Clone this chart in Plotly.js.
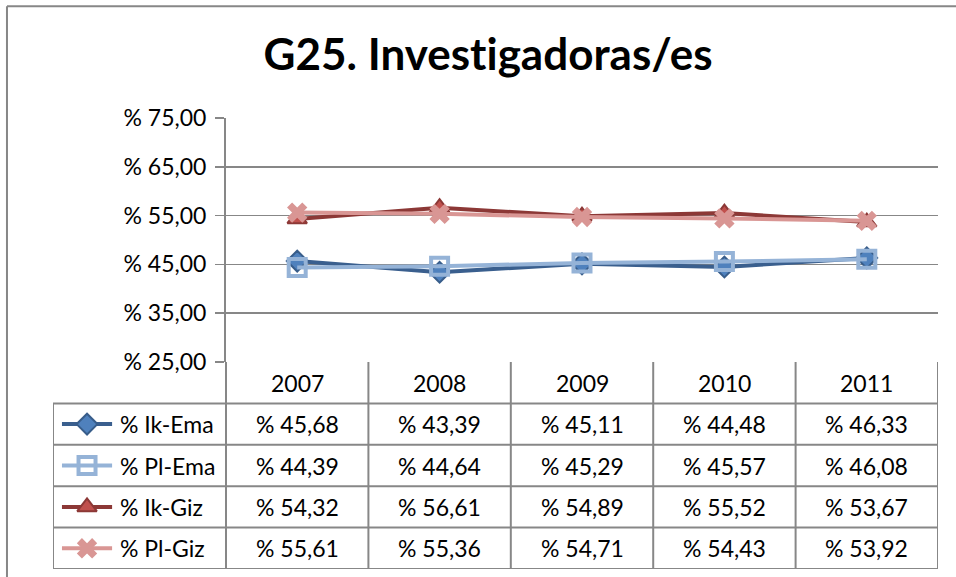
<!DOCTYPE html>
<html>
<head>
<meta charset="utf-8">
<script src="https://cdn.plot.ly/plotly-3.0.1.min.js"></script>
<style>html,body{margin:0;padding:0;background:#fff;}#chart{width:956px;height:577px;}
svg text{font-variant-ligatures:none;font-feature-settings:"liga" 0;}</style>
</head>
<body>
<div id="chart"></div>
<script>
// ---- data ----
const years = ["2007", "2008", "2009", "2010", "2011"];
const seriesNames = ["% Ik-Ema", "% Pl-Ema", "% Ik-Giz", "% Pl-Giz"];
const ikEma = [45.68, 43.39, 45.11, 44.48, 46.33];
const plEma = [44.39, 44.64, 45.29, 45.57, 46.08];
const ikGiz = [54.32, 56.61, 54.89, 55.52, 53.67];
const plGiz = [55.61, 55.36, 54.71, 54.43, 53.92];
const yTickVals = [25, 35, 45, 55, 65, 75];
const yTickText = ["% 25,00", "% 35,00", "% 45,00", "% 55,00", "% 65,00", "% 75,00"];
const titleText = "G25. Investigadoras/es";

// ---- styles ----
const FONT = "Lato, 'Open Sans', sans-serif";
const GRID = "#878787";
const styles = [
  {line: "#3A5F8E", marker: {symbol: "diamond", size: 16, color: "#4F81BD", line: {color: "#385D8A", width: 2}}},
  {line: "#95B3D7", marker: {symbol: "square-open", size: 17, color: "#95B3D7", line: {color: "#95B3D7", width: 4}}},
  {line: "#8C3836", marker: {symbol: "triangle-up", size: 17, color: "#C0504D", line: {color: "#8C3836", width: 2}}},
  {line: "#D99694", marker: {symbol: "x", size: 18, color: "#D99694", line: {color: "#D99694", width: 0}}}
];
const allSeries = [ikEma, plEma, ikGiz, plGiz];

function fmt(v) { return "% " + v.toFixed(2).replace(".", ","); }

const traces = [];
allSeries.forEach((vals, i) => {
  traces.push({
    type: "scatter", mode: "lines+markers", x: years, y: vals, name: seriesNames[i],
    xaxis: "x", yaxis: "y", cliponaxis: false,
    line: {color: styles[i].line, width: 4}, marker: styles[i].marker, showlegend: false, hoverinfo: "skip"
  });
});

// legend keys in the table (x2/y2 coordinates: column index, row index)
const keyLeft = -1.652, keyRight = -1.30, keyMid = -1.476;
allSeries.forEach((vals, i) => {
  const rowY = i + 1.5;
  traces.push({
    type: "scatter", mode: "lines", x: [keyLeft, keyRight], y: [rowY, rowY], xaxis: "x2", yaxis: "y2",
    line: {color: styles[i].line, width: 4}, showlegend: false, hoverinfo: "skip"
  });
  traces.push({
    type: "scatter", mode: "markers", x: [keyMid], y: [rowY], xaxis: "x2", yaxis: "y2",
    marker: styles[i].marker, showlegend: false, hoverinfo: "skip"
  });
});

const shapes = [];
const lineStyle = {color: GRID, width: 2};
const tLeft = -1.715, tRight = 4.5;
for (let r = 1; r <= 5; r++) {
  shapes.push({type: "line", xref: "x2", yref: "y2", x0: tLeft, x1: tRight, y0: r, y1: r, line: lineStyle});
}
shapes.push({type: "line", xref: "x2", yref: "y2", x0: tLeft, x1: tLeft, y0: 1, y1: 5, line: lineStyle});
for (let c = 0; c <= years.length; c++) {
  shapes.push({type: "line", xref: "x2", yref: "y2", x0: c - 0.5, x1: c - 0.5, y0: 0, y1: 5, line: lineStyle});
}
// outer chart border (left and top)
shapes.push({type: "line", xref: "paper", yref: "paper", x0: -0.052, x1: -0.052, y0: 1.248, y1: -0.03, line: {color: GRID, width: 2}});
shapes.push({type: "line", xref: "paper", yref: "paper", x0: -0.052, x1: 1.03, y0: 1.248, y1: 1.248, line: {color: GRID, width: 2}});

const annotations = [];
const cellFont = {family: FONT, size: 23, color: "#000"};
years.forEach((yr, c) => {
  annotations.push({xref: "x2", yref: "y2", x: c, y: 0.5, text: yr, showarrow: false, font: cellFont, xanchor: "center", yanchor: "middle"});
});
allSeries.forEach((vals, r) => {
  annotations.push({xref: "x2", yref: "y2", x: -1.26, y: r + 1.5, text: seriesNames[r], showarrow: false, font: cellFont, xanchor: "left", yanchor: "middle"});
  vals.forEach((v, c) => {
    annotations.push({xref: "x2", yref: "y2", x: c, y: r + 1.5, text: fmt(v), showarrow: false, font: cellFont, xanchor: "center", yanchor: "middle"});
  });
});

const layout = {
  width: 956, height: 577,
  margin: {l: 53, r: 18, t: 118, b: 8, pad: 0},
  paper_bgcolor: "#fff", plot_bgcolor: "#fff",
  font: {family: FONT, color: "#000"},
  title: {text: "<b>" + titleText + "</b>", x: 0.5105, xref: "container", xanchor: "center", y: 0.905, yref: "container", yanchor: "middle",
          font: {family: FONT, size: 44, color: "#000"}},
  xaxis: {type: "category", domain: [0.19548, 1], anchor: "y", range: [-0.5, 4.5], showticklabels: false, showgrid: false,
          zeroline: false, showline: false, ticks: "", fixedrange: true},
  yaxis: {domain: [0.45898, 1], anchor: "x", range: [25, 75], tickvals: yTickVals, ticktext: yTickText,
          showgrid: true, gridcolor: GRID, gridwidth: 1.5, zeroline: false,
          showline: true, linecolor: GRID, linewidth: 2, ticks: "outside", ticklen: 9, tickcolor: GRID, tickwidth: 1.5,
          tickfont: {family: FONT, size: 23, color: "#000"}, ticklabelstandoff: 4, fixedrange: true},
  xaxis2: {domain: [0, 1], anchor: "y2", range: [tLeft, tRight], visible: false, fixedrange: true},
  yaxis2: {domain: [0, 0.45898], anchor: "x2", range: [5, 0], visible: false, fixedrange: true},
  shapes: shapes, annotations: annotations, showlegend: false
};

Plotly.newPlot("chart", traces, layout, {displayModeBar: false, staticPlot: true});
</script>
</body>
</html>
